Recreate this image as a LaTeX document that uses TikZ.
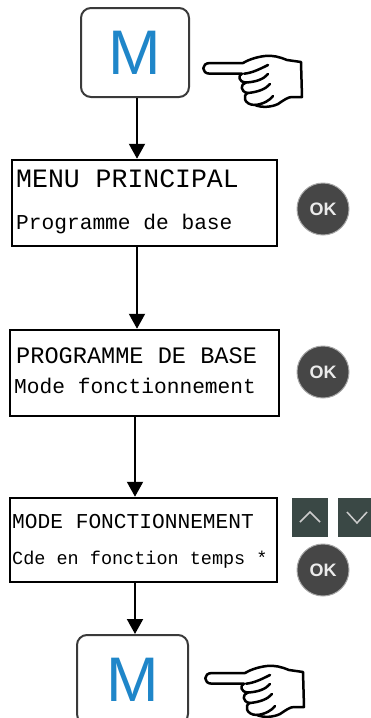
\documentclass[tikz,border=0pt]{standalone}
\usepackage{fontspec}
\setmainfont{Liberation Sans}
\setmonofont{Liberation Mono}
\usepackage{xcolor}
\usetikzlibrary{arrows.meta, positioning, calc}
\definecolor{KeyBlue}{HTML}{1F86C9}
\definecolor{KeyEdge}{HTML}{3A3A3A}
\definecolor{OkGrey}{HTML}{464646}
\definecolor{PadSlate}{HTML}{3A4845}
\newcommand{\lcdfont}[1]{\fontsize{#1}{#1}\selectfont\ttfamily}

\tikzset{
  mkey/.style={draw=KeyEdge, line width=2pt, rounded corners=10pt, fill=white,
               minimum width=108pt, minimum height=89pt, inner sep=0pt,
               text=KeyBlue, font=\fontsize{63}{63}\selectfont},
  lcdbox/.style={draw, line width=2.5pt, inner sep=0pt, minimum height=86pt},
  lcdline/.style={anchor=base west, inner sep=0pt},
  flow/.style={line width=2pt, -{Triangle[width=16pt,length=15pt]}},
  okkey/.style={circle, fill=OkGrey, draw=black!35, line width=1pt, minimum size=52pt,
                inner sep=0pt, text=black!8, font=\fontsize{18}{18}\selectfont\bfseries},
  padkey/.style={fill=PadSlate, minimum width=36pt, minimum height=39pt, inner sep=0pt},
  chev/.style={draw=black!20, line width=1.5pt},
  pointer/.pic={
    \draw[line width=2.5pt, line join=round, fill=white]
      (43,11) -- (10,11) .. controls (1,11) and (1,21.7) .. (10,21.7) -- (42,21.7)
      .. controls (38,23) and (38,30) .. (46,30.5)
      .. controls (40,32) and (40,40) .. (48,41)
      .. controls (42,43) and (44,53) .. (55,53)
      .. controls (62,56) and (72,55) .. (78,52)
      .. controls (84,48) and (88,45) .. (92,45) -- (102,45) -- (101,10)
      -- (87,8) .. controls (80,5) and (72,3) .. (65,4)
      .. controls (56,5) and (48,8) .. (43,11) -- cycle;
    \draw[line width=2.5pt, line cap=round]
      (44,21.7) .. controls (52,21) and (60,17) .. (68,13)
      (46,30.5) .. controls (56,30) and (64,27) .. (68,22)
      (48,41) .. controls (58,40) and (66,37) .. (70,32)
      (55,53) .. controls (64,52) and (70,48) .. (73,44);
  }
}

\begin{document}
\begin{tikzpicture}[x=1pt, y=-1pt]
\useasboundingbox (0,0) rectangle (370,718);

% keys and screens
\node[mkey] (mtop) at (135,52.5) {M};
\pic at (200,52) {pointer};

\node[lcdbox, minimum width=265pt] (menu) at (144.5,203) {};
\node[lcdline, font=\lcdfont{26.5}] (menu1) at (16,187) {MENU PRINCIPAL};
\node[lcdline, font=\lcdfont{21.2}] (menu2) at (16,229) {Programme de base};
\node[okkey] (ok1) at (323,209) {OK};

\node[lcdbox, minimum width=269pt] (prog) at (144.5,373) {};
\node[lcdline, font=\lcdfont{23.6}] (prog1) at (16,363) {PROGRAMME DE BASE};
\node[lcdline, font=\lcdfont{21.2}] (prog2) at (14,393) {Mode fonctionnement};
\node[okkey] (ok2) at (323,372) {OK};

\node[lcdbox, minimum width=267pt, minimum height=84pt] (mode) at (143.5,540) {};
\node[lcdline, font=\lcdfont{21.2}] (mode1) at (12,528) {MODE FONCTIONNEMENT};
\node[lcdline, font=\lcdfont{18.5}] (mode2) at (12,564) {Cde en fonction temps *};
\node[padkey] (up) at (310,517.5) {};
\node[padkey, minimum width=38pt] (down) at (357,517.5) {};
\draw[chev] ($(up.center)+(-10,4.5)$) -- ++(10,-10) -- ++(10,10);
\draw[chev] ($(down.center)+(-10,-5.5)$) -- ++(10,11) -- ++(10,-11);
\node[okkey] (ok3) at (323,570) {OK};

\node[mkey, minimum width=111pt] (mbot) at (132.5,679.5) {M};
\pic at (202,662) {pointer};

% arrows
\draw[flow] ([xshift=2pt]mtop.south) -- ([xshift=2pt]mtop.south |- menu.north);
\draw[flow] ([xshift=-7.5pt]menu.south) -- ([xshift=-7.5pt]prog.north);
\draw[flow] ([xshift=-9.5pt]prog.south) -- ([xshift=-8.5pt]mode.north);
\draw[flow] ([xshift=-8.5pt]mode.south) -- ([xshift=2.5pt]mbot.north);
\end{tikzpicture}
\end{document}
